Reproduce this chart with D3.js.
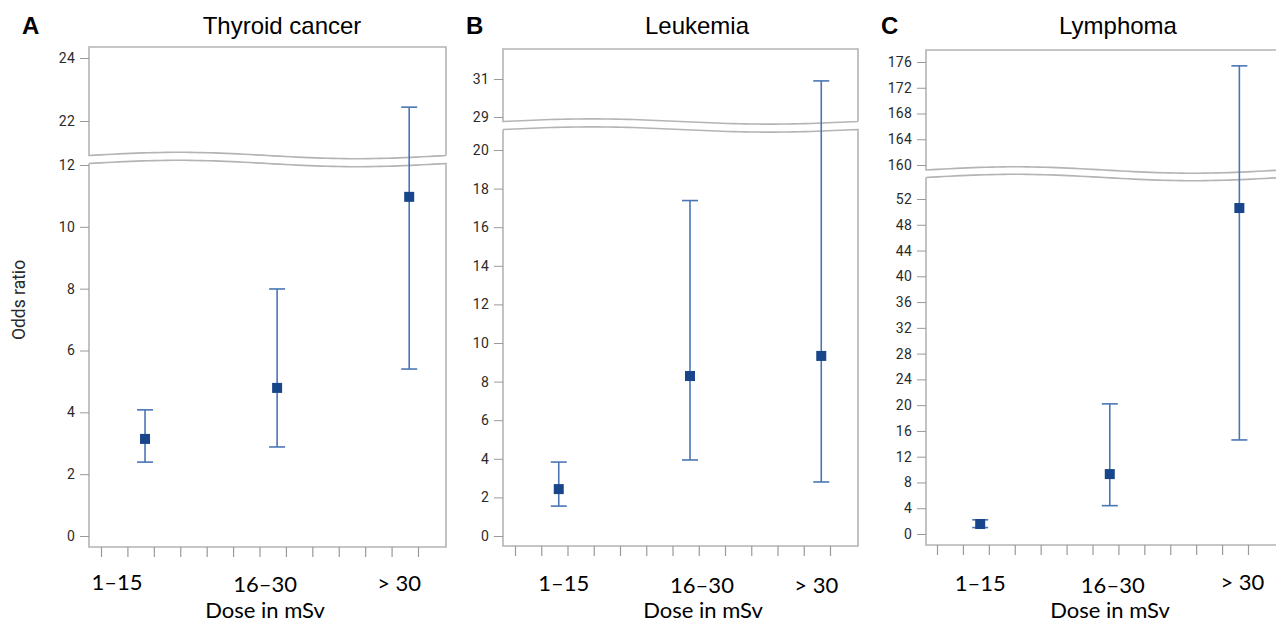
<!DOCTYPE html>
<html>
<head>
<meta charset="utf-8">
<script src="https://cdn.jsdelivr.net/npm/d3@7"></script>
<style>
  html, body { margin: 0; padding: 0; background: #fff; }
  svg { display: block; }
</style>
</head>
<body>
<svg id="chart" width="1276" height="625"></svg>
<script>
// ---------------- data ----------------
const categories = ["1–15", "16–30", "> 30"];
const panelLetters = ["A", "B", "C"];
const panelTitles = ["Thyroid cancer", "Leukemia", "Lymphoma"];

const thyroidOR = [3.14, 4.79, 10.97];
const thyroidLo = [2.39, 2.88, 5.40];
const thyroidHi = [4.08, 7.99, 22.44];

const leukemiaOR = [2.43, 8.29, 9.33];
const leukemiaLo = [1.55, 3.94, 2.80];
const leukemiaHi = [3.83, 17.38, 30.9];

const lymphomaOR = [1.55, 9.3, 50.6];
const lymphomaLo = [1.0, 4.4, 14.6];
const lymphomaHi = [2.2, 20.2, 175.4];

const thyroidLowTicks = [0, 2, 4, 6, 8, 10, 12];
const thyroidHighTicks = [22, 24];
const leukemiaLowTicks = [0, 2, 4, 6, 8, 10, 12, 14, 16, 18, 20];
const leukemiaHighTicks = [29, 31];
const lymphomaLowTicks = [0, 4, 8, 12, 16, 20, 24, 28, 32, 36, 40, 44, 48, 52];
const lymphomaHighTicks = [160, 164, 168, 172, 176];

const xMinorTicks = [0, 1, 2, 3, 4, 5, 6, 7, 8, 9, 10, 11, 12];

const yAxisTitle = "Odds ratio";
const xAxisTitle = "Dose in mSv";

// ---------------- layout (positions only) ----------------
const layout = [
  { left: 89, right: 446, top: 47, bottom: 547,
    lowRange: [536, 165], highRange: [121, 58],
    waveUp: 155.5, waveLow: 163.5, amp: 3.2,
    tickFirst: 101, tickLast: 418,
    letterX: 22, titleX: 282,
    labelDx: [-28, -12, -10], labelY: [590, 592, 591], xTitleX: 265, xTitleY: 618 },
  { left: 503, right: 858, top: 49, bottom: 546,
    lowRange: [536, 150], highRange: [117, 79],
    waveUp: 121.5, waveLow: 129.5, amp: 2.6,
    tickFirst: 515, tickLast: 830,
    letterX: 466, titleX: 697,
    labelDx: [5, 12, -5], labelY: [591, 593, 593], xTitleX: 703, xTitleY: 618 },
  { left: 926, right: 1282, top: 50, bottom: 545,
    lowRange: [534, 199], highRange: [165, 62],
    waveUp: 170, waveLow: 177.5, amp: 3.2,
    tickFirst: 937, tickLast: 1248,
    letterX: 881, titleX: 1118,
    labelDx: [0, 3, 3], labelY: [591, 593, 590], xTitleX: 1110, xTitleY: 618 }
];

const panelData = [
  { or: thyroidOR, lo: thyroidLo, hi: thyroidHi, lowTicks: thyroidLowTicks, highTicks: thyroidHighTicks },
  { or: leukemiaOR, lo: leukemiaLo, hi: leukemiaHi, lowTicks: leukemiaLowTicks, highTicks: leukemiaHighTicks },
  { or: lymphomaOR, lo: lymphomaLo, hi: lymphomaHi, lowTicks: lymphomaLowTicks, highTicks: lymphomaHighTicks }
];

const frameColor = "#b4b4b4";
const tickColor = "#9a9a9a";
const labelColor = "#2a2a2a";
const markColor = "#18468a";
const lineColor = "#4a76b4";
const tickFont = "Roboto, 'DejaVu Sans', sans-serif";
const catFont = "Lato, 'Open Sans', sans-serif";

const svg = d3.select("#chart");

function wavePath(l, r, c, amp, n = 60) {
  return d3.range(n + 1).map(i => {
    const x = l + (r - l) * i / n;
    return [x, c - amp * Math.sin(2 * Math.PI * i / n)];
  });
}

panelData.forEach((pd, i) => {
  const L = layout[i];
  const g = svg.append("g");

  const yLow = d3.scaleLinear()
    .domain([0, d3.max(pd.lowTicks)]).range(L.lowRange);
  const yHigh = d3.scaleLinear()
    .domain(d3.extent(pd.highTicks)).range(L.highRange);
  const lowMax = yLow.invert(L.waveLow);
  const yPix = v => (v <= lowMax ? yLow(v) : yHigh(v));

  const xMinor = d3.scaleLinear()
    .domain(d3.extent(xMinorTicks)).range([L.tickFirst, L.tickLast]);
  const xCat = d3.scalePoint()
    .domain(categories)
    .range([xMinor(5 / 3), xMinor(35 / 3)]);

  // frame: upper box and lower box with wavy break
  const line = d3.line();
  const upWave = wavePath(L.left, L.right, L.waveUp, L.amp);
  const lowWave = wavePath(L.left, L.right, L.waveLow, L.amp);
  const upperBox = [[L.right, upWave[upWave.length - 1][1]], [L.right, L.top], [L.left, L.top], ...upWave];
  const lowerBox = [...lowWave, [L.right, L.bottom], [L.left, L.bottom], [L.left, lowWave[0][1]]];

  g.append("path").attr("d", line(upperBox))
    .attr("fill", "none").attr("stroke", frameColor).attr("stroke-width", 1.6);
  g.append("path").attr("d", line(lowerBox))
    .attr("fill", "none").attr("stroke", frameColor).attr("stroke-width", 1.6);

  // y axes
  const styleAxis = sel => {
    sel.select(".domain").remove();
    sel.selectAll(".tick line").attr("stroke", tickColor).attr("stroke-width", 1);
    sel.selectAll(".tick text")
      .attr("fill", labelColor)
      .style("font-family", tickFont)
      .style("font-size", "14px")
      .style("letter-spacing", "0.2px");
  };
  g.append("g").attr("transform", `translate(${L.left},0)`)
    .call(d3.axisLeft(yLow).tickValues(pd.lowTicks).tickSize(9).tickPadding(5).tickFormat(d3.format("d")))
    .call(styleAxis);
  g.append("g").attr("transform", `translate(${L.left},0)`)
    .call(d3.axisLeft(yHigh).tickValues(pd.highTicks).tickSize(9).tickPadding(5).tickFormat(d3.format("d")))
    .call(styleAxis);

  // x minor ticks
  g.append("g").attr("transform", `translate(0,${L.bottom})`)
    .call(d3.axisBottom(xMinor).tickValues(xMinorTicks).tickSize(10).tickFormat(""))
    .call(sel => {
      sel.select(".domain").remove();
      sel.selectAll(".tick line").attr("stroke", tickColor).attr("stroke-width", 1.2);
    });

  // error bars
  const capW = 8;
  categories.forEach((c, k) => {
    const x = xCat(c);
    const yH = yPix(pd.hi[k]);
    const yL = yPix(pd.lo[k]);
    g.append("line").attr("x1", x).attr("x2", x).attr("y1", yH).attr("y2", yL)
      .attr("stroke", lineColor).attr("stroke-width", 1.6);
    [yH, yL].forEach(yy => {
      g.append("line").attr("x1", x - capW).attr("x2", x + capW).attr("y1", yy).attr("y2", yy)
        .attr("stroke", lineColor).attr("stroke-width", 1.6);
    });
    const yo = yPix(pd.or[k]);
    g.append("rect").attr("x", x - 5).attr("y", yo - 5).attr("width", 10).attr("height", 10)
      .attr("fill", markColor);

    g.append("text").attr("x", x + L.labelDx[k]).attr("y", L.labelY[k])
      .attr("text-anchor", "middle")
      .style("font-family", catFont).style("font-size", "22px").attr("fill", "#000")
      .text(c);
  });

  g.append("text").attr("x", L.xTitleX).attr("y", L.xTitleY)
    .attr("text-anchor", "middle")
    .style("font-family", catFont).style("font-size", "22px").attr("fill", "#000")
    .text(xAxisTitle);

  // titles
  g.append("text").attr("x", L.letterX).attr("y", 34)
    .style("font-family", "'Liberation Sans', Arial, sans-serif").style("font-weight", "bold")
    .style("font-size", "24px").attr("fill", "#000")
    .text(panelLetters[i]);
  g.append("text").attr("x", L.titleX).attr("y", 34).attr("text-anchor", "middle")
    .style("font-family", "'Liberation Sans', Arial, sans-serif")
    .style("font-size", "24px").attr("fill", "#000")
    .text(panelTitles[i]);
});

svg.append("text")
  .attr("transform", "translate(25,300) rotate(-90)")
  .attr("text-anchor", "middle")
  .style("font-family", tickFont).style("font-size", "17.5px").attr("fill", labelColor)
  .text(yAxisTitle);
</script>
</body>
</html>
